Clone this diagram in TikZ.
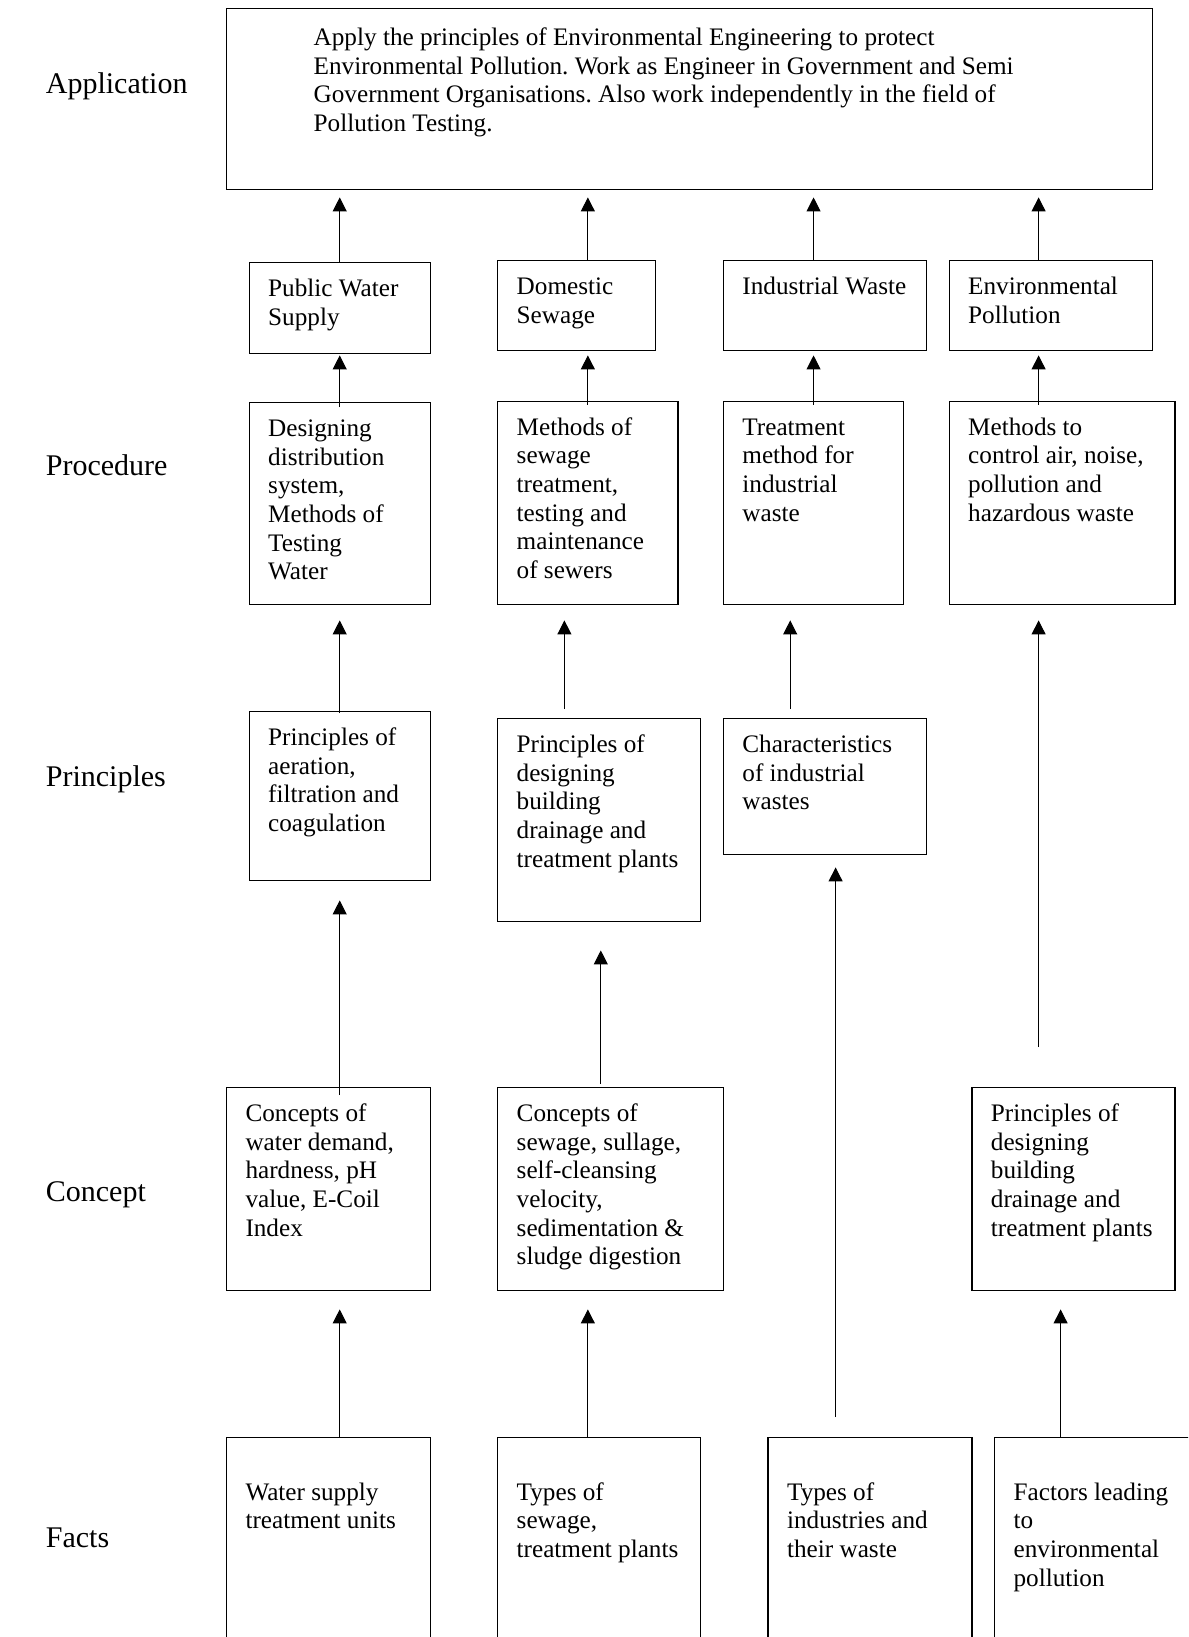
\documentclass[tikz,border=0pt]{standalone}
\usepackage{fontspec}
\setmainfont{Liberation Serif}
\usetikzlibrary{arrows.meta}
\frenchspacing

\begin{document}
\begin{tikzpicture}[x=0.5pt, y=-0.5pt,
    box/.style 2 args={draw, fill=white, line width=.7pt, anchor=north west,
      inner xsep=9.5pt, inner ysep=7pt,
      font=\fontsize{12.6pt}{14.3pt}\selectfont,
      execute at begin node={\begin{minipage}[t][\dimexpr#2pt/2-\pgfkeysvalueof{/pgf/inner ysep}*2\relax][t]{\dimexpr#1pt/2-\pgfkeysvalueof{/pgf/inner xsep}*2\relax}\raggedright\strut},
      execute at end node={\end{minipage}}},
    rowlabel/.style={anchor=base west, inner sep=0pt, font=\fontsize{15pt}{18pt}\selectfont},
    arr/.style={-{Triangle[length=7pt, width=7pt]}, line width=.5pt}]

    \useasboundingbox (0,0) rectangle (1188,1637);
    \clip (0,0) rectangle (1188,1637);

    \node[rowlabel] (lapp) at (45.5,94) {Application};
    \node[rowlabel] (lproc) at (45.5,475) {Procedure};
    \node[rowlabel] (lprin) at (45.5,786) {Principles};
    \node[rowlabel] (lcon) at (45.5,1201.5) {Concept};
    \node[rowlabel] (lfact) at (45.5,1547) {Facts};

    \node[box={926}{181}, inner xsep=43.5pt, inner ysep=8.4pt] (app) at (226,8)
        {Apply the principles of Environmental Engineering to protect\\
         Environmental Pollution. Work as Engineer in Government and Semi\\
         Government Organisations. Also work independently in the field of\\
         Pollution Testing.};

    \node[box={181}{91}] (pws) at (248.5,262) {Public Water\\Supply};
    \node[box={157.5}{90}] (dom) at (497,260) {Domestic\\Sewage};
    \node[box={203}{90}] (iw) at (722.7,260) {Industrial~Waste};
    \node[box={203}{90}] (ep) at (948.5,260) {Environmental\\Pollution};

    \node[box={181}{202}] (p1) at (248.5,402) {Designing\\distribution\\system,\\Methods of\\Testing\\Water};
    \node[box={180.3}{203.5}] (p2) at (497,400.5) {Methods of\\sewage\\treatment,\\testing and\\maintenance\\of sewers};
    \node[box={180.3}{203.5}] (p3) at (722.7,400.5) {Treatment\\method for\\industrial\\waste};
    \node[box={225.7}{203.5}] (p4) at (948.5,400.5) {Methods to\\control~air,~noise,\\pollution and\\hazardous waste};

    \node[box={181}{169}] (pr1) at (248.5,711) {Principles of\\aeration,\\filtration and\\coagulation};
    \node[box={203}{203}] (pr2) at (497,718) {Principles of\\designing\\building\\drainage and\\treatment~plants};
    \node[box={203}{136}] (pr3) at (722.7,718) {Characteristics\\of industrial\\wastes};

    \node[box={203.7}{203}] (c1) at (225.8,1087) {Concepts of\\water demand,\\hardness, pH\\value, E-Coil\\Index};
    \node[box={225.7}{203}] (c2) at (497,1087) {Concepts of\\sewage,~sullage,\\self-cleansing\\velocity,\\sedimentation~\&\\sludge~digestion};
    \node[box={203}{203}] (c4) at (971.2,1087) {Principles of\\designing\\building\\drainage and\\treatment~plants};

    \node[box={203.7}{260}] (f1) at (225.8,1437) {\\Water supply\\treatment~units};
    \node[box={203}{260}] (f2) at (497,1437) {\\Types of\\sewage,\\treatment~plants};
    \node[box={203.8}{260}] (f3) at (767.4,1437) {\\Types of\\industries~and\\their waste};
    \node[box={260}{260}] (f4) at (993.9,1437) {\\Factors~leading\\to\\environmental\\pollution};

    \path[arr]
        (pws.north) edge[shorten >=3.5pt] (pws.north |- app.south)
        (dom.north -| p2.north) edge[shorten >=3.5pt] (app.south -| p2.north)
        (iw.north -| p3.north) edge[shorten >=3.5pt] (app.south -| p3.north)
        (ep.north -| 1038.6,0) edge[shorten >=3.5pt] (app.south -| 1038.6,0)
        (p1.north) edge[shorten <=-2.5pt, shorten >=.5pt] (p1.north |- pws.south)
        (p2.north) edge[shorten <=-2pt, shorten >=2pt] (p2.north |- dom.south)
        (p3.north) edge[shorten <=-2pt, shorten >=2pt] (p3.north |- iw.south)
        (p4.north -| 1038.6,0) edge[shorten <=-2pt, shorten >=2pt] (ep.south -| 1038.6,0)
        (pr1.north) edge[shorten <=-1pt, shorten >=7.5pt] (pr1.north |- p1.south)
        (pr2.north -| 564.4,0) edge[shorten <=4.5pt, shorten >=7.5pt] (p2.south -| 564.4,0)
        (pr3.north -| 790.2,0) edge[shorten <=4.5pt, shorten >=7.5pt] (p3.south -| 790.2,0)
        (c4.north -| 1038.6,0) edge[shorten <=20pt, shorten >=7.5pt] (p4.south -| 1038.6,0)
        (c1.north -| pws.north) edge[shorten <=-4pt, shorten >=9.5pt] (pr1.south)
        (c2.north -| 600.8,0) edge[shorten <=1.5pt, shorten >=14pt] (pr2.south -| 600.8,0)
        (f3.north -| 835.6,0) edge[shorten <=10pt, shorten >=6pt] (pr3.south -| 835.6,0)
        (f1.north -| pws.north) edge[shorten >=9pt] (c1.south -| pws.north)
        (f2.north -| p2.north) edge[shorten >=9pt] (c2.south -| p2.north)
        (f4.north -| 1060.6,0) edge[shorten >=9pt] (c4.south -| 1060.6,0);

\end{tikzpicture}
\end{document}
